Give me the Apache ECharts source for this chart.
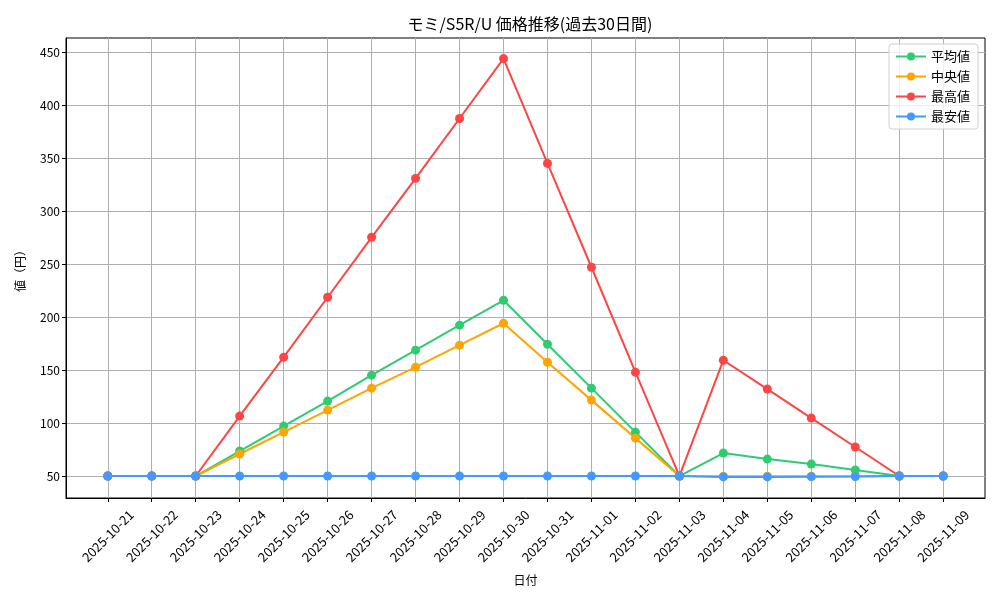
<!DOCTYPE html>
<html>
<head>
<meta charset="utf-8">
<script src="https://cdn.jsdelivr.net/npm/echarts@6/dist/echarts.min.js"></script>
<style>
  html, body { margin: 0; padding: 0; background: #fff; }
  #holder { width: 1000px; height: 600px; }
</style>
</head>
<body>
<div id="holder"></div>
<script>
var dates = ['2025-10-21', '2025-10-22', '2025-10-23', '2025-10-24', '2025-10-25',
  '2025-10-26', '2025-10-27', '2025-10-28', '2025-10-29', '2025-10-30',
  '2025-10-31', '2025-11-01', '2025-11-02', '2025-11-03', '2025-11-04',
  '2025-11-05', '2025-11-06', '2025-11-07', '2025-11-08', '2025-11-09']

// 平均値
var avgVals = [50, 50, 50, 73.6, 97.2, 120.8, 145.3, 168.9, 192.5, 216,
  174.5, 133, 91.5, 50, 71.7, 66, 61.3, 55.7, 50, 50]
// 中央値
var medVals = [50, 50, 50, 70.8, 91.5, 112.3, 133, 152.8, 173.6, 194.3,
  157.5, 121.7, 85.8, 50, 49.8, 49.8, 49.8, 49.8, 50, 50]
// 最高値
var maxVals = [50, 50, 50, 106.6, 162.3, 218.9, 275.5, 331.1, 387.7, 444.3,
  345.3, 247.2, 148.1, 50, 159.4, 132.1, 104.7, 77.4, 50, 50]
// 最安値
var minVals = [50, 50, 50, 50, 50, 50, 50, 50, 50, 50,
  50, 50, 50, 50, 49.2, 49.2, 49.4, 49.6, 50, 50]

var yTicks = [50, 100, 150, 200, 250, 300, 350, 400, 450]

var fontFam = '"Noto Sans CJK JP", "Noto Sans", sans-serif'

function toPairs(vals) {
  var ret = []
  vals.forEach((v, i) => {
    ret.push([i, v])
  })
  return ret
}

function mkSeries(name, vals, color) {
  return {
    name: name,
    type: 'line',
    data: toPairs(vals),
    symbol: 'circle',
    symbolSize: 9,
    showSymbol: true,
    lineStyle: { color: color, width: 2 },
    itemStyle: { color: color },
    emphasis: { disabled: true },
    animation: false
  }
}

var xIdx = dates.map((d, i) => i)

var myChart = echarts.init(document.getElementById('holder'))

var option = {
  backgroundColor: '#fff',
  textStyle: { fontFamily: fontFam },
  title: {
    text: 'モミ/S5R/U 価格推移(過去30日間)',
    left: 525,
    textAlign: 'center',
    top: 11,
    textStyle: { fontSize: 16, fontWeight: 'normal', color: '#000', fontFamily: fontFam }
  },
  legend: {
    orient: 'vertical',
    right: 22,
    top: 44,
    align: 'left',
    itemWidth: 30,
    itemHeight: 10,
    itemGap: 7,
    padding: [6, 8, 6, 6],
    backgroundColor: 'rgba(255,255,255,0.8)',
    borderColor: '#d0d0d0',
    borderWidth: 1,
    borderRadius: 3,
    textStyle: { fontSize: 13, color: '#000', fontFamily: fontFam },
    data: ['平均値', '中央値', '最高値', '最安値']
  },
  grid: {
    left: 66,
    right: 15,
    top: 38,
    bottom: 102,
    show: true,
    borderColor: '#000',
    borderWidth: 1,
    containLabel: false
  },
  xAxis: {
    type: 'value',
    min: -0.95,
    max: 19.95,
    name: '日付',
    nameLocation: 'middle',
    nameGap: 76,
    nameTextStyle: { fontSize: 12, color: '#000', fontFamily: fontFam },
    axisLine: { show: true, onZero: false, lineStyle: { color: '#000', width: 1 } },
    axisTick: { show: true, length: 4, lineStyle: { color: '#000' }, customValues: xIdx },
    axisLabel: {
      rotate: 45,
      fontSize: 13,
      color: '#000',
      align: 'center',
      verticalAlign: 'middle',
      margin: 38,
      customValues: xIdx,
      formatter: v => dates[Math.round(v)]
    },
    splitLine: { show: true, lineStyle: { color: '#b0b0b0', width: 1 } }
  },
  yAxis: {
    type: 'value',
    min: 29.25,
    max: 463.75,
    name: '値（円）',
    nameLocation: 'middle',
    nameGap: 40,
    nameRotate: 90,
    nameTextStyle: { fontSize: 12, color: '#000', fontFamily: fontFam },
    axisLine: { show: true, onZero: false, lineStyle: { color: '#000', width: 1 } },
    axisTick: { show: true, length: 4, lineStyle: { color: '#000' }, customValues: yTicks },
    axisLabel: { fontSize: 12, color: '#000', margin: 6, customValues: yTicks },
    splitLine: { show: true, lineStyle: { color: '#b0b0b0', width: 1 } }
  },
  series: [
    mkSeries('平均値', avgVals, '#2ecc71'),
    mkSeries('中央値', medVals, '#ffa500'),
    mkSeries('最高値', maxVals, '#ff4444'),
    mkSeries('最安値', minVals, '#4499ff')
  ]
}

myChart.setOption(option)
</script>
</body>
</html>
